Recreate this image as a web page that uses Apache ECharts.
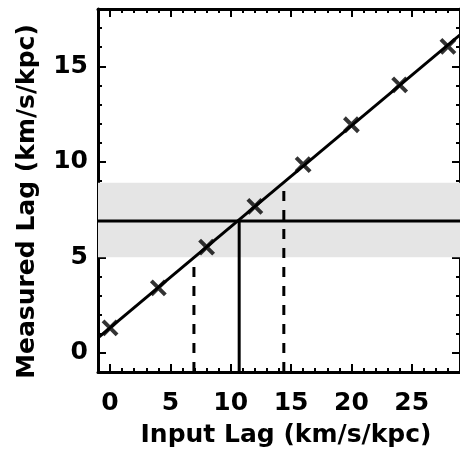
<!DOCTYPE html>
<html>
<head>
<meta charset="utf-8">
<script src="https://cdn.jsdelivr.net/npm/echarts@6/dist/echarts.min.js"></script>
<style>html,body{margin:0;padding:0;background:#fff}#c{width:460px;height:453px}</style>
</head>
<body>
<div id="c"></div>
<script>
// ---- data ----
const inputLag    = [0, 4, 8, 12, 16, 20, 24, 28];
const measuredLag = [1.31, 3.40, 5.54, 7.67, 9.85, 11.94, 14.03, 16.04];
const fitX = [-1, 29];
const fitY = [0.79, 16.65];
const observedLag = 6.9;
const observedBand = [5.0, 8.9];
const inferredLag = 10.7;
const inferredRange = [6.95, 14.4];
const xRange = [-1, 29];
const yRange = [-1, 18];
const xMajorTicks = [0, 5, 10, 15, 20, 25];
const yMajorTicks = [0, 5, 10, 15];
const xTitle = 'Input Lag (km/s/kpc)';
const yTitle = 'Measured Lag (km/s/kpc)';

function intRange(a, b) { const r = []; for (let v = a; v <= b; v++) r.push(v); return r; }
const xMinorTicks = intRange(xRange[0], xRange[1]);
const yMinorTicks = intRange(yRange[0], yRange[1]);

const FONT = '"DejaVu Sans", sans-serif';
const lineW = 3;

function mkAxis(pos, min, max, ticks, len, showLine, labels, extra) {
  return Object.assign({
    type: 'value', position: pos, min: min, max: max,
    axisLine: { show: showLine, onZero: false, lineStyle: { color: '#000', width: 3 } },
    axisTick: { show: true, inside: true, length: len, customValues: ticks, lineStyle: { color: '#000', width: 2 } },
    axisLabel: labels ? { show: true, customValues: labels, color: '#000', fontFamily: FONT, fontWeight: 'bold', fontSize: 25, margin: pos === 'bottom' ? 19 : 10 } : { show: false },
    splitLine: { show: false }
  }, extra || {});
}

const xAxes = [
  mkAxis('bottom', xRange[0], xRange[1], xMajorTicks, 8, true, xMajorTicks, {
    name: xTitle, nameLocation: 'middle', nameGap: 51,
    nameTextStyle: { color: '#000', fontFamily: FONT, fontWeight: 'bold', fontSize: 25, padding: [0, 0, 0, 14] }
  }),
  mkAxis('bottom', xRange[0], xRange[1], xMinorTicks, 4, false, null),
  mkAxis('top', xRange[0], xRange[1], xMajorTicks, 8, true, null),
  mkAxis('top', xRange[0], xRange[1], xMinorTicks, 4, false, null)
];
const yAxes = [
  mkAxis('left', yRange[0], yRange[1], yMajorTicks, 8, true, yMajorTicks, {
    name: yTitle, nameLocation: 'middle', nameGap: 58,
    nameTextStyle: { color: '#000', fontFamily: FONT, fontWeight: 'bold', fontSize: 25, padding: [0, 22, 0, 0] }
  }),
  mkAxis('left', yRange[0], yRange[1], yMinorTicks, 4, false, null),
  mkAxis('right', yRange[0], yRange[1], yMajorTicks, 8, true, null),
  mkAxis('right', yRange[0], yRange[1], yMinorTicks, 4, false, null)
];

function seg(data, dashed, z) {
  return {
    type: 'line', data: data, showSymbol: false, symbol: 'none', silent: true, z: z || 3,
    lineStyle: { color: '#000', width: lineW, type: dashed ? [10, 9] : 'solid', cap: 'butt' },
    animation: false
  };
}

const series = [
  {
    type: 'line', data: [[xRange[0], observedLag], [xRange[1], observedLag]], symbol: 'none', silent: true, z: 3,
    lineStyle: { color: '#000', width: lineW }, animation: false,
    markArea: {
      silent: true, itemStyle: { color: '#e5e5e5' },
      data: [[{ yAxis: observedBand[0] }, { yAxis: observedBand[1] }]]
    }
  },
  seg([[inferredLag, yRange[0]], [inferredLag, observedLag]], false),
  seg([[inferredRange[0], yRange[0]], [inferredRange[0], observedBand[0]]], true),
  seg([[inferredRange[1], yRange[0]], [inferredRange[1], observedBand[1]]], true),
  seg(fitX.map((x, i) => [x, fitY[i]]), false, 4),
  {
    type: 'scatter', data: inputLag.map((x, i) => [x, measuredLag[i]]), z: 5,
    symbol: 'path://M0,0L10,10M10,0L0,10', symbolSize: 14,
    itemStyle: { color: 'none', borderColor: '#000', borderWidth: 4 },
    animation: false
  }
];

const chart = echarts.init(document.getElementById('c'), null, { renderer: 'canvas' });
chart.setOption({
  animation: false,
  backgroundColor: '#fff',
  grid: { left: 98, right: -1, top: 9, bottom: 81, containLabel: false },
  xAxis: xAxes,
  yAxis: yAxes,
  series: series
});
</script>
</body>
</html>
